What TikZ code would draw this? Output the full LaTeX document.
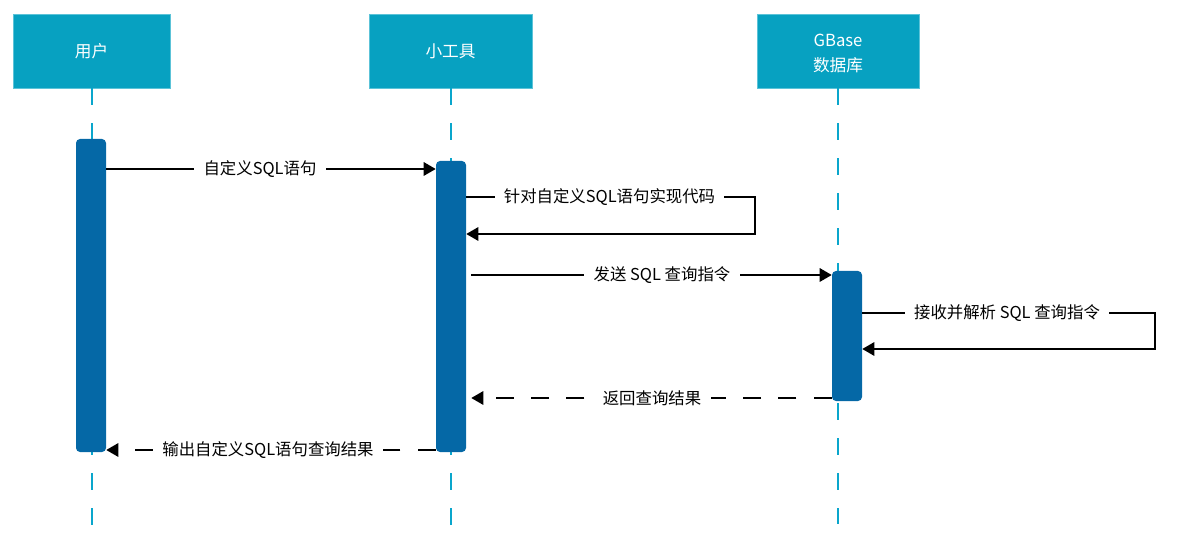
\documentclass[tikz,border=0pt]{standalone}
\usepackage{fontspec}
\setmainfont{Noto Sans CJK SC}
\usetikzlibrary{arrows.meta}
\definecolor{hdr}{HTML}{07A1C1}
\definecolor{hdredge}{HTML}{5CC3D8}
\definecolor{actc}{HTML}{0568A6}
\definecolor{life}{HTML}{0AA6CC}
\begin{document}
\begin{tikzpicture}[x=0.75pt,y=-0.75pt,
  hdrbox/.style={draw=hdredge, line width=0.4pt, fill=hdr, text=white, minimum height=55.5pt, inner sep=0pt, align=center, font=\fontsize{12.5pt}{18.75pt}\selectfont},
  actbar/.style={fill=actc, rounded corners=3pt, minimum width=22.5pt, inner sep=0pt},
  lifel/.style={draw=life, line width=1.5pt, dash pattern=on 12.75pt off 13.5pt},
  msg/.style={draw=black, line width=1.5pt, -{Triangle[length=9pt,width=10pt]}},
  ret/.style={msg, dash pattern=on 13.5pt off 13pt},
  lbl/.style={fill=white, inner xsep=7pt, inner ysep=1pt, font=\fontsize{12.3pt}{14pt}\selectfont}]
\useasboundingbox (0,0) rectangle (1181,559);
% headers
\node[hdrbox, minimum width=117.75pt] (user) at (91.5,51) {用户};
\node[hdrbox, minimum width=122.25pt] (tool) at (450.5,51) {小工具};
\node[hdrbox, minimum width=121.5pt] (db) at (838,51) {};
\node[text=white, align=center, inner sep=0pt, font=\fontsize{12.5pt}{18.75pt}\selectfont] (dbtext) at (838,53) {GBase\\数据库};
% lifelines
\coordinate (uend) at (91.5,528);
\coordinate (tend) at (450.5,528);
\coordinate (dend) at (838,524);
\draw[lifel] (user.south) -- (uend);
\draw[lifel] (tool.south) -- (tend);
\draw[lifel] (db.south) -- (dend);
% activation bars
\node[actbar, minimum height=234.75pt] (ubar) at (91,295.5) {};
\node[actbar, minimum height=218.25pt] (tbar) at (451,306.5) {};
\node[actbar, minimum height=97.5pt] (dbar) at (847,336) {};
% y levels
\coordinate (y1) at (0,169);
\coordinate (y2a) at (0,197);
\coordinate (y2b) at (0,234);
\coordinate (y3) at (0,275);
\coordinate (y4a) at (0,313);
\coordinate (y4b) at (0,349);
\coordinate (y5) at (0,398);
\coordinate (y6) at (0,450);
\coordinate (c2a) at (755,197);
\coordinate (c2b) at (755,234);
\coordinate (c4a) at (1155,313);
\coordinate (c4b) at (1155,349);
% messages
\draw[msg] (ubar.east |- y1) -- (tbar.west |- y1);
\node[lbl] (l1) at (260,169) {自定义SQL语句};
\draw[msg] (tbar.east |- y2a) -- (c2a) -- (c2b) -- (tbar.east |- y2b);
\node[lbl] (l2) at (609.5,197) {针对自定义SQL语句实现代码};
\draw[msg] ([xshift=3.75pt]tbar.east |- y3) -- (dbar.west |- y3);
\node[lbl] (l3) at (662,275) {发送 SQL 查询指令};
\draw[msg] (dbar.east |- y4a) -- (c4a) -- (c4b) -- (dbar.east |- y4b);
\node[lbl] (l4) at (1007,313) {接收并解析 SQL 查询指令};
\draw[ret] (dbar.west |- y5) -- ([xshift=3.75pt]tbar.east |- y5);
\node[lbl] (l5) at (652,398) {返回查询结果};
\draw[ret] (tbar.west |- y6) -- (ubar.east |- y6);
\node[lbl] (l6) at (268,450) {输出自定义SQL语句查询结果};
\end{tikzpicture}
\end{document}
